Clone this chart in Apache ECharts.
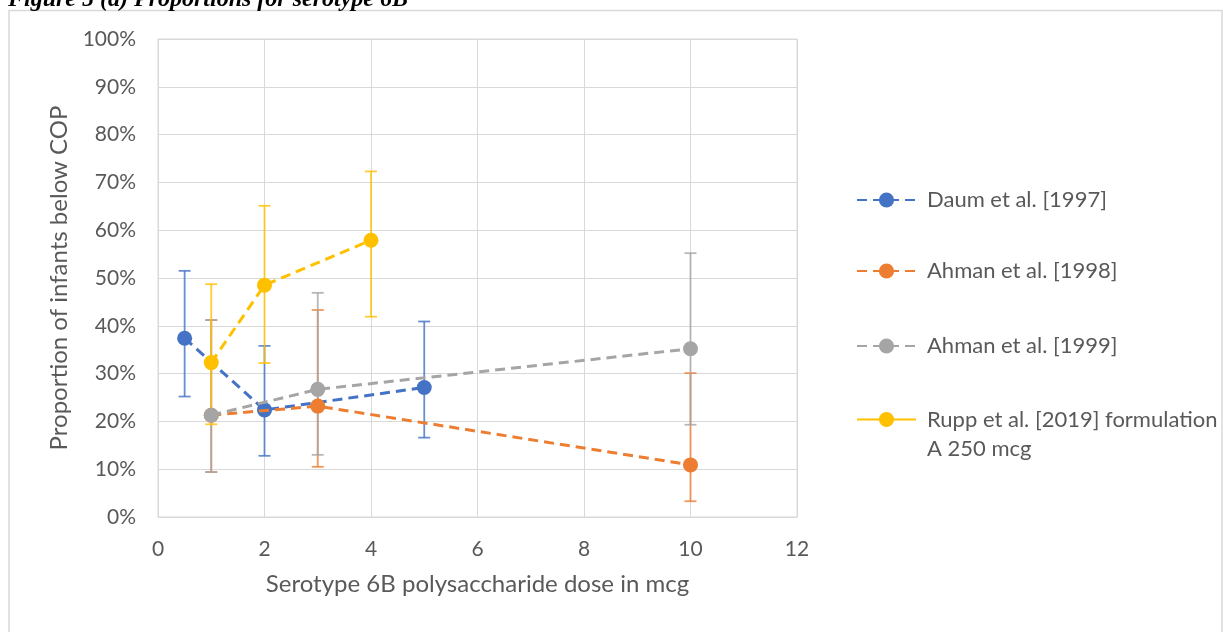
<!DOCTYPE html>
<html><head><meta charset="utf-8">
<script src="https://cdn.jsdelivr.net/npm/echarts@6/dist/echarts.min.js"></script>
<style>html,body{margin:0;padding:0;background:#fff}#c{width:1223px;height:632px}</style>
</head><body><div id="c"></div>
<script>
// Data (proportions in %)
const seriesNames = ['Daum et al. [1997]', 'Ahman et al. [1998]', 'Ahman et al. [1999]', 'Rupp et al. [2019] formulation A 250 mcg'];
const daumDose = [0.5, 2, 5];
const daumValue = [37.4, 22.4, 27.1];
const daumLow = [25.2, 12.8, 16.6];
const daumHigh = [51.5, 35.8, 40.9];
const ahman98Dose = [1, 3, 10];
const ahman98Value = [21.3, 23.2, 10.9];
const ahman98Low = [9.4, 10.5, 3.3];
const ahman98High = [41.2, 43.3, 30.1];
const ahman99Dose = [1, 3, 10];
const ahman99Value = [21.3, 26.7, 35.2];
const ahman99Low = [9.4, 13.0, 19.3];
const ahman99High = [41.2, 46.9, 55.2];
const ruppDose = [1, 2, 4];
const ruppValue = [32.3, 48.5, 57.9];
const ruppLow = [19.4, 32.2, 41.9];
const ruppHigh = [48.7, 65.1, 72.3];
const xTicks = [0, 2, 4, 6, 8, 10, 12];
const yTicks = [0, 10, 20, 30, 40, 50, 60, 70, 80, 90, 100];

const colors = ['#4472C4', '#ED7D31', '#A5A5A5', '#FFC000'];
const FONT = 'Lato';
const TXT = '#595959';

const groups = [
  [daumDose, daumValue, daumLow, daumHigh],
  [ahman98Dose, ahman98Value, ahman98Low, ahman98High],
  [ahman99Dose, ahman99Value, ahman99Low, ahman99High],
  [ruppDose, ruppValue, ruppLow, ruppHigh]
];

function errRender(color) {
  return function (params, api) {
    const x = api.value(0), lo = api.value(1), hi = api.value(2);
    const a = api.coord([x, hi]), b = api.coord([x, lo]);
    const h = 6;
    const st = { stroke: color, lineWidth: 1.8, opacity: 0.8 };
    return { type: 'group', children: [
      { type: 'line', shape: { x1: a[0], y1: a[1], x2: b[0], y2: b[1] }, style: st },
      { type: 'line', shape: { x1: a[0] - h, y1: a[1], x2: a[0] + h, y2: a[1] }, style: st },
      { type: 'line', shape: { x1: b[0] - h, y1: b[1], x2: b[0] + h, y2: b[1] }, style: st }
    ]};
  };
}

const series = [];
groups.forEach((g, i) => {
  series.push({
    type: 'custom', name: seriesNames[i] + ' err', z: 1,
    renderItem: errRender(colors[i]),
    encode: { x: 0, y: [1, 2] },
    data: g[0].map((d, k) => [d, g[2][k], g[3][k]]),
    silent: true
  });
});
groups.forEach((g, i) => {
  series.push({
    type: 'line', name: seriesNames[i], z: 3 + i,
    data: g[0].map((d, k) => [d, g[1][k]]),
    symbol: 'circle', symbolSize: 15,
    itemStyle: { color: colors[i] },
    lineStyle: { color: colors[i], width: 3, type: [10, 6] }
  });
});

const chart = echarts.init(document.getElementById('c'), null, { renderer: 'canvas' });
const legendBase = {
  orient: 'vertical', left: 851, itemWidth: 59, itemHeight: 19, itemGap: 0,
  textStyle: { fontFamily: FONT, fontSize: 22, color: TXT, padding: [0, 0, 0, 6] },
  selectedMode: false
};
chart.setOption({
  animation: false,
  backgroundColor: '#fff',
  grid: { left: 158, top: 39, right: 426, bottom: 115, show: true, borderColor: '#d9d9d9', borderWidth: 1 },
  xAxis: {
    type: 'value', min: 0, max: 12, interval: 2,
    name: 'Serotype 6B polysaccharide dose in mcg', nameLocation: 'middle', nameGap: 55,
    nameTextStyle: { fontFamily: FONT, fontSize: 24, color: TXT },
    axisLine: { show: true, lineStyle: { color: '#d9d9d9', width: 1 } },
    axisTick: { show: false },
    axisLabel: { fontFamily: FONT, fontSize: 21, color: TXT, margin: 22 },
    splitLine: { show: true, lineStyle: { color: '#d9d9d9', width: 1 } }
  },
  yAxis: {
    type: 'value', min: 0, max: 100, interval: 10,
    name: 'Proportion of infants below COP', nameLocation: 'middle', nameGap: 84,
    nameTextStyle: { fontFamily: FONT, fontSize: 24, color: TXT },
    axisLine: { show: true, lineStyle: { color: '#d9d9d9', width: 1 } },
    axisTick: { show: false },
    axisLabel: { fontFamily: FONT, fontSize: 21, color: TXT, margin: 22, formatter: '{value}%' },
    splitLine: { show: true, lineStyle: { color: '#d9d9d9', width: 1 } }
  },
  legend: [
    Object.assign({}, legendBase, { top: 184, data: [seriesNames[0]] }),
    Object.assign({}, legendBase, { top: 255, data: [seriesNames[1]] }),
    Object.assign({}, legendBase, { top: 330, data: [seriesNames[2]] }),
    Object.assign({}, legendBase, { top: 371, data: [{ name: seriesNames[3], lineStyle: { type: 'solid' } }],
      textStyle: { fontFamily: FONT, fontSize: 22, color: TXT, lineHeight: 29, padding: [0, 0, 0, 6] },
      formatter: function (n) { return ' \nRupp et al. [2019] formulation\nA 250 mcg'; } })
  ],
  graphic: [
    { type: 'rect', shape: { x: 9, y: 10.5, width: 1213, height: 700 }, style: { fill: 'none', stroke: '#d9d9d9', lineWidth: 1.5 }, silent: true },
    { type: 'text', left: 8, top: -12, style: { text: 'Figure 5 (a) Proportions for serotype 6B', font: 'italic bold 24px "Liberation Serif"', fill: '#000' }, silent: true }
  ],
  series: series
});
</script></body></html>
